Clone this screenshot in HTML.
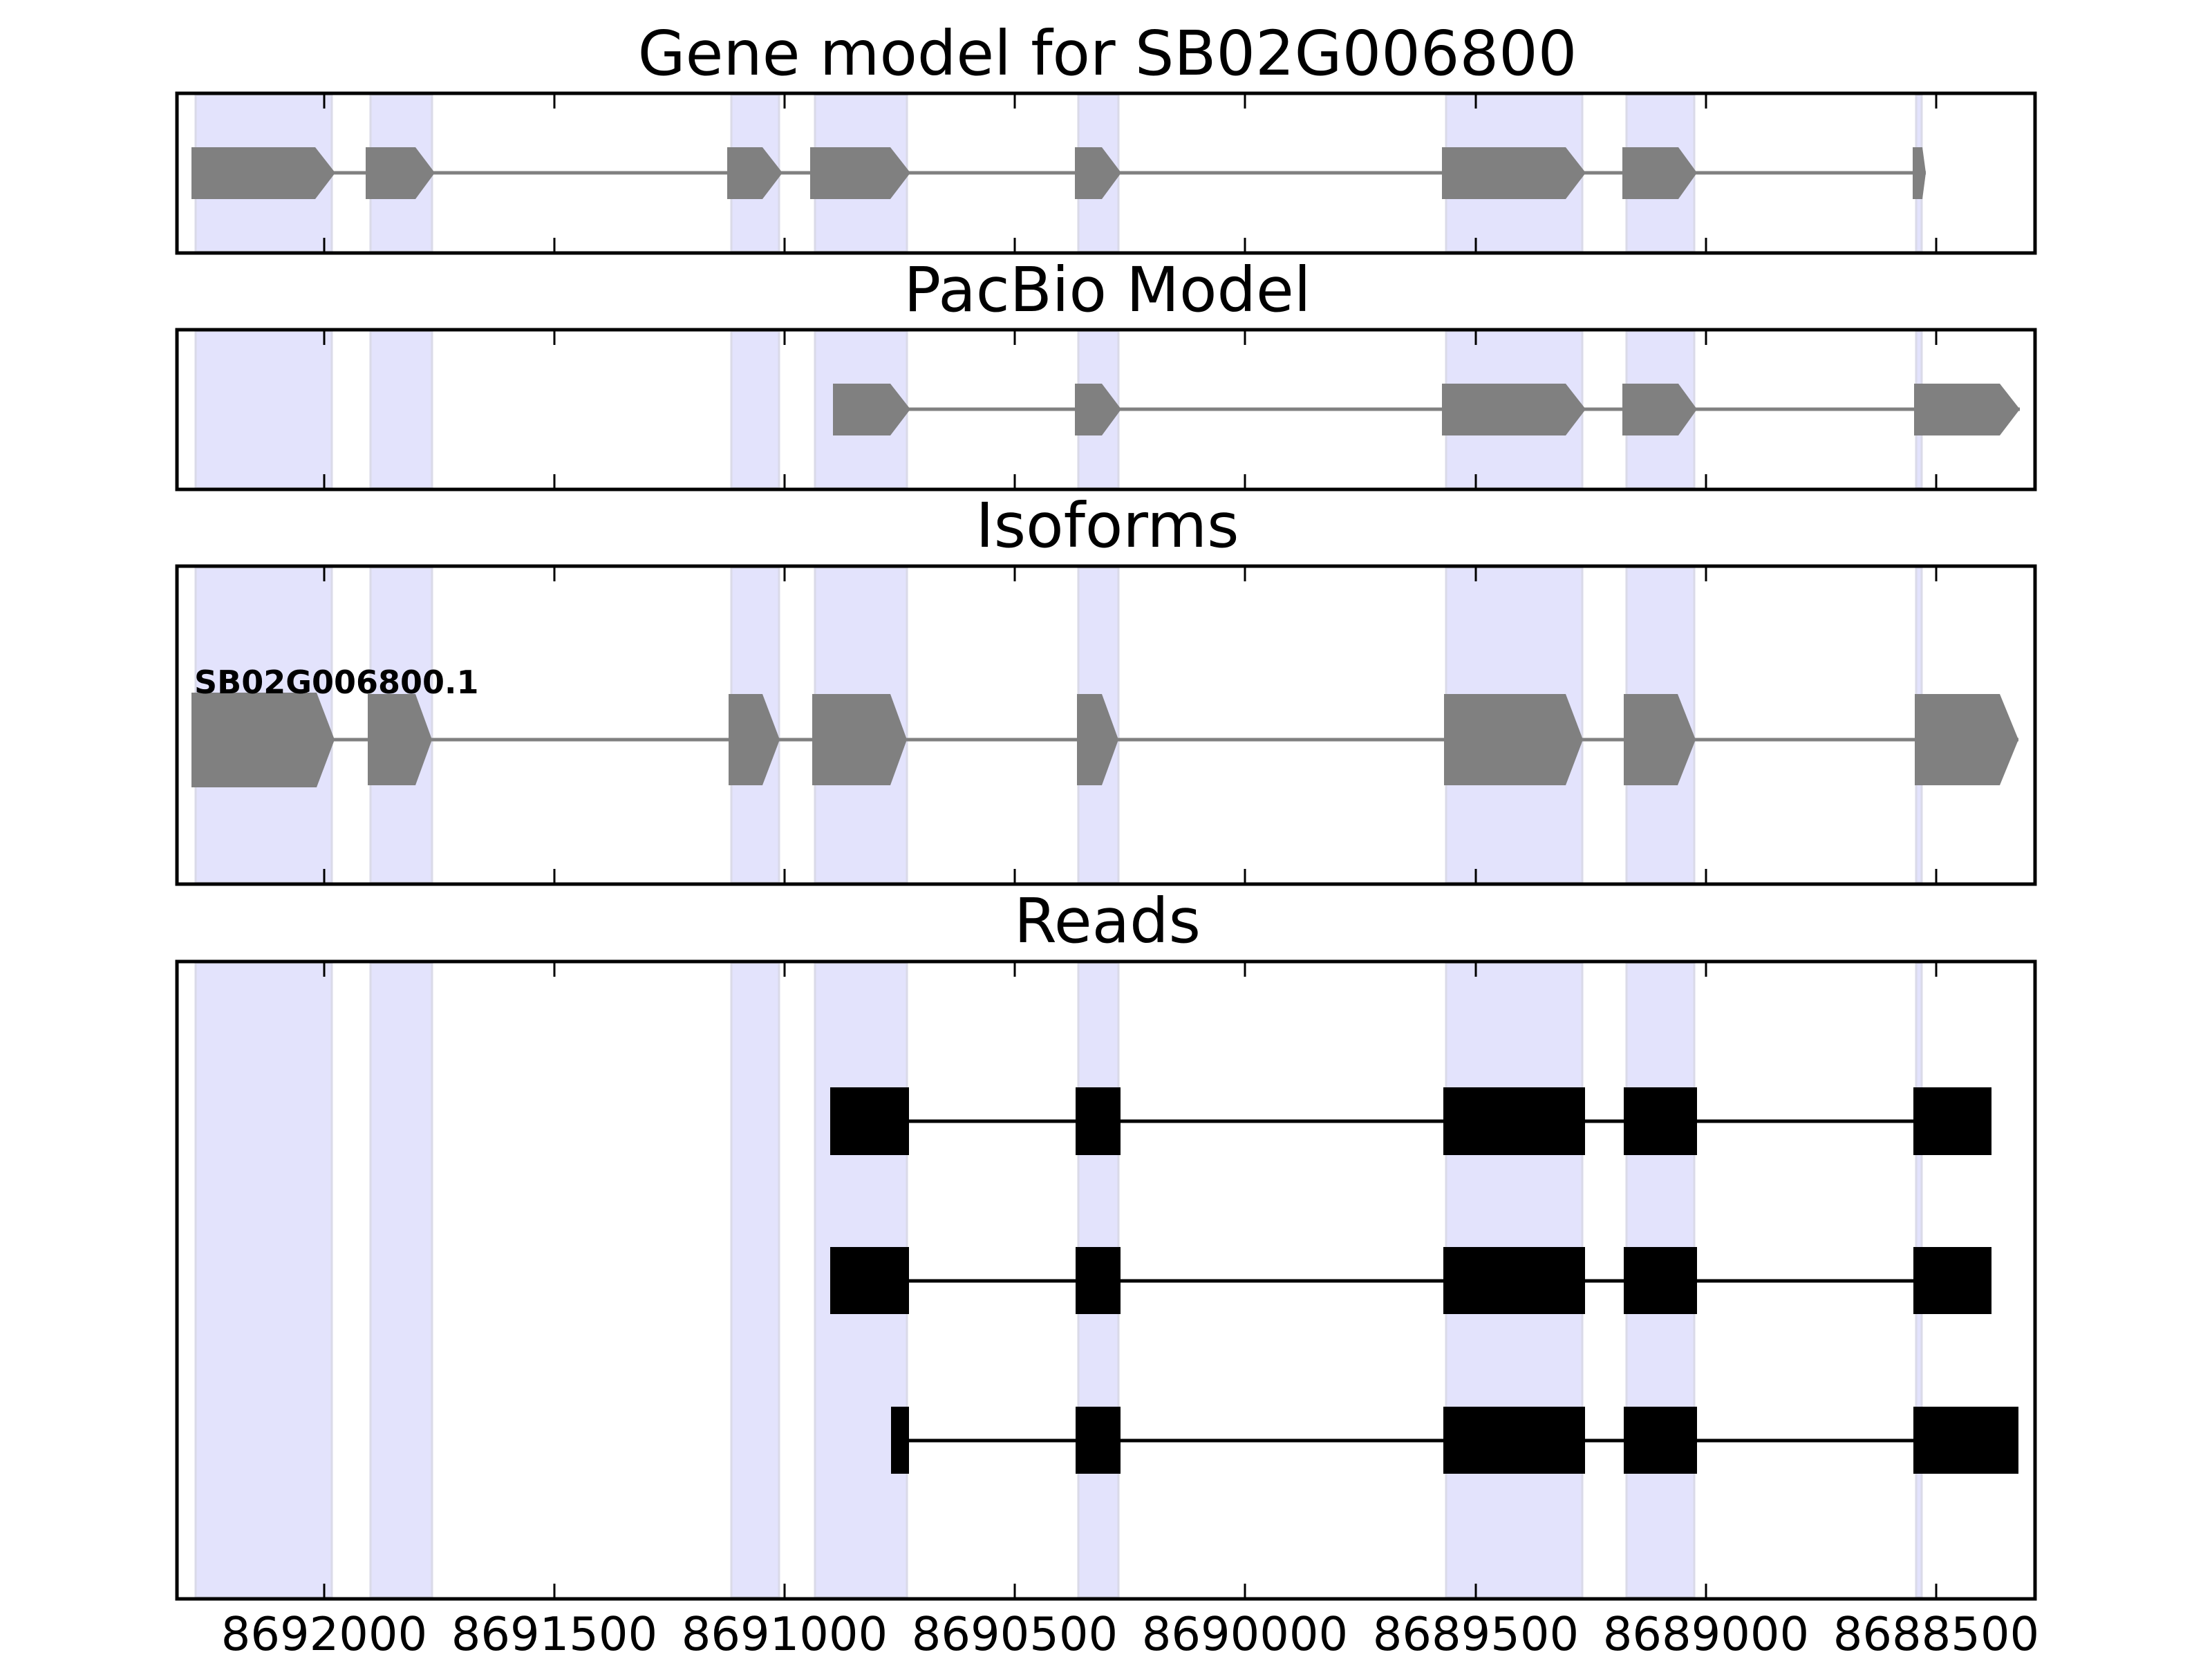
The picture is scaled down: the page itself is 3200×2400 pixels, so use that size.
<!DOCTYPE html>
<html><head><meta charset="utf-8"><style>
html,body{margin:0;padding:0;background:#fff;}
svg{display:block;}
text{font-family:"DejaVu Sans","Liberation Sans",sans-serif;}
</style></head><body>
<svg width="3200" height="2400" viewBox="0 0 3200 2400" xmlns="http://www.w3.org/2000/svg">
<rect width="3200" height="2400" fill="#fff"/>

<g fill="#e3e3fc" stroke="#dadae8" stroke-width="3">
<rect x="283" y="137" width="197" height="227"/><rect x="536" y="137" width="89" height="227"/><rect x="1058" y="137" width="69" height="227"/><rect x="1179" y="137" width="133" height="227"/><rect x="1560" y="137" width="58" height="227"/><rect x="2092" y="137" width="197" height="227"/><rect x="2353" y="137" width="98" height="227"/><rect x="2772" y="137" width="8" height="227"/>
<rect x="283" y="479" width="197" height="227"/><rect x="536" y="479" width="89" height="227"/><rect x="1058" y="479" width="69" height="227"/><rect x="1179" y="479" width="133" height="227"/><rect x="1560" y="479" width="58" height="227"/><rect x="2092" y="479" width="197" height="227"/><rect x="2353" y="479" width="98" height="227"/><rect x="2772" y="479" width="8" height="227"/>
<rect x="283" y="821" width="197" height="456"/><rect x="536" y="821" width="89" height="456"/><rect x="1058" y="821" width="69" height="456"/><rect x="1179" y="821" width="133" height="456"/><rect x="1560" y="821" width="58" height="456"/><rect x="2092" y="821" width="197" height="456"/><rect x="2353" y="821" width="98" height="456"/><rect x="2772" y="821" width="8" height="456"/>
<rect x="283" y="1393" width="197" height="918"/><rect x="536" y="1393" width="89" height="918"/><rect x="1058" y="1393" width="69" height="918"/><rect x="1179" y="1393" width="133" height="918"/><rect x="1560" y="1393" width="58" height="918"/><rect x="2092" y="1393" width="197" height="918"/><rect x="2353" y="1393" width="98" height="918"/><rect x="2772" y="1393" width="8" height="918"/>
</g>

<line x1="277" y1="250" x2="2786" y2="250" stroke="#808080" stroke-width="5"/>
<g fill="#808080">
<polygon points="277,213 456,213 485,250 456,288 277,288"/>
<polygon points="529,213 601,213 629,250 601,288 529,288"/>
<polygon points="1052,213 1103,213 1132,250 1103,288 1052,288"/>
<polygon points="1172,213 1288,213 1317,250 1288,288 1172,288"/>
<polygon points="1555,213 1594,213 1622,250 1594,288 1555,288"/>
<polygon points="2086,213 2265,213 2294,250 2265,288 2086,288"/>
<polygon points="2347,213 2428,213 2455,250 2428,288 2347,288"/>
<polygon points="2767,213 2781,213 2786,250 2781,288 2767,288"/>
</g>

<line x1="1205" y1="592" x2="2922" y2="592" stroke="#808080" stroke-width="5"/>
<g fill="#808080">
<polygon points="1205,555 1288,555 1317,592 1288,630 1205,630"/>
<polygon points="1555,555 1594,555 1622,592 1594,630 1555,630"/>
<polygon points="2086,555 2265,555 2294,592 2265,630 2086,630"/>
<polygon points="2347,555 2428,555 2455,592 2428,630 2347,630"/>
<polygon points="2769,555 2893,555 2922,592 2893,630 2769,630"/>
</g>

<line x1="277" y1="1070" x2="2920" y2="1070" stroke="#808080" stroke-width="5"/>
<g fill="#808080">
<polygon points="277,1002 458,1002 484,1070 458,1139 277,1139"/>
<polygon points="532,1004 601,1004 625,1070 601,1136 532,1136"/>
<polygon points="1054,1004 1103,1004 1128,1070 1103,1136 1054,1136"/>
<polygon points="1175,1004 1288,1004 1312,1070 1288,1136 1175,1136"/>
<polygon points="1558,1004 1594,1004 1618,1070 1594,1136 1558,1136"/>
<polygon points="2089,1004 2265,1004 2290,1070 2265,1136 2089,1136"/>
<polygon points="2349,1004 2427,1004 2453,1070 2427,1136 2349,1136"/>
<polygon points="2770,1004 2893,1004 2920,1070 2893,1136 2770,1136"/>
</g>
<text x="281" y="1003" font-size="46" font-weight="bold" fill="#000">SB02G006800.1</text>

<g stroke="#000" stroke-width="5">
<line x1="1201" y1="1622" x2="2881" y2="1622"/>
<line x1="1201" y1="1853" x2="2881" y2="1853"/>
<line x1="1289" y1="2084" x2="2920" y2="2084"/>
</g>
<g fill="#000">
<rect x="1201" y="1573" width="114" height="98"/><rect x="1556" y="1573" width="65" height="98"/><rect x="2088" y="1573" width="205" height="98"/><rect x="2349" y="1573" width="106" height="98"/><rect x="2768" y="1573" width="113" height="98"/>
<rect x="1201" y="1804" width="114" height="97"/><rect x="1556" y="1804" width="65" height="97"/><rect x="2088" y="1804" width="205" height="97"/><rect x="2349" y="1804" width="106" height="97"/><rect x="2768" y="1804" width="113" height="97"/>
<rect x="1289" y="2035" width="26" height="97"/><rect x="1556" y="2035" width="65" height="97"/><rect x="2088" y="2035" width="205" height="97"/><rect x="2349" y="2035" width="106" height="97"/><rect x="2768" y="2035" width="152" height="97"/>
</g>

<g stroke="#000" stroke-width="3">
<path d="M469,137v20M802,137v20M1135,137v20M1468,137v20M1801,137v20M2135,137v20M2468,137v20M2801,137v20
M469,364v-20M802,364v-20M1135,364v-20M1468,364v-20M1801,364v-20M2135,364v-20M2468,364v-20M2801,364v-20
M469,479v20M802,479v20M1135,479v20M1468,479v20M1801,479v20M2135,479v20M2468,479v20M2801,479v20
M469,706v-20M802,706v-20M1135,706v-20M1468,706v-20M1801,706v-20M2135,706v-20M2468,706v-20M2801,706v-20
M469,821v20M802,821v20M1135,821v20M1468,821v20M1801,821v20M2135,821v20M2468,821v20M2801,821v20
M469,1277v-20M802,1277v-20M1135,1277v-20M1468,1277v-20M1801,1277v-20M2135,1277v-20M2468,1277v-20M2801,1277v-20
M469,1393v20M802,1393v20M1135,1393v20M1468,1393v20M1801,1393v20M2135,1393v20M2468,1393v20M2801,1393v20
M469,2311v-20M802,2311v-20M1135,2311v-20M1468,2311v-20M1801,2311v-20M2135,2311v-20M2468,2311v-20M2801,2311v-20"/>
</g>

<g fill="none" stroke="#000" stroke-width="5">
<rect x="256" y="135" width="2688" height="231"/>
<rect x="256" y="477" width="2688" height="231"/>
<rect x="256" y="819" width="2688" height="460"/>
<rect x="256" y="1391" width="2688" height="922"/>
</g>

<g font-size="89" text-anchor="middle" fill="#000">
<text x="1602" y="108">Gene model for SB02G006800</text>
<text x="1602" y="450">PacBio Model</text>
<text x="1602" y="791">Isoforms</text>
<text x="1602" y="1363">Reads</text>
</g>

<g font-size="67" text-anchor="middle" fill="#000">
<text x="469" y="2387">8692000</text>
<text x="802" y="2387">8691500</text>
<text x="1135" y="2387">8691000</text>
<text x="1468" y="2387">8690500</text>
<text x="1801" y="2387">8690000</text>
<text x="2135" y="2387">8689500</text>
<text x="2468" y="2387">8689000</text>
<text x="2801" y="2387">8688500</text>
</g>
</svg>
</body></html>
